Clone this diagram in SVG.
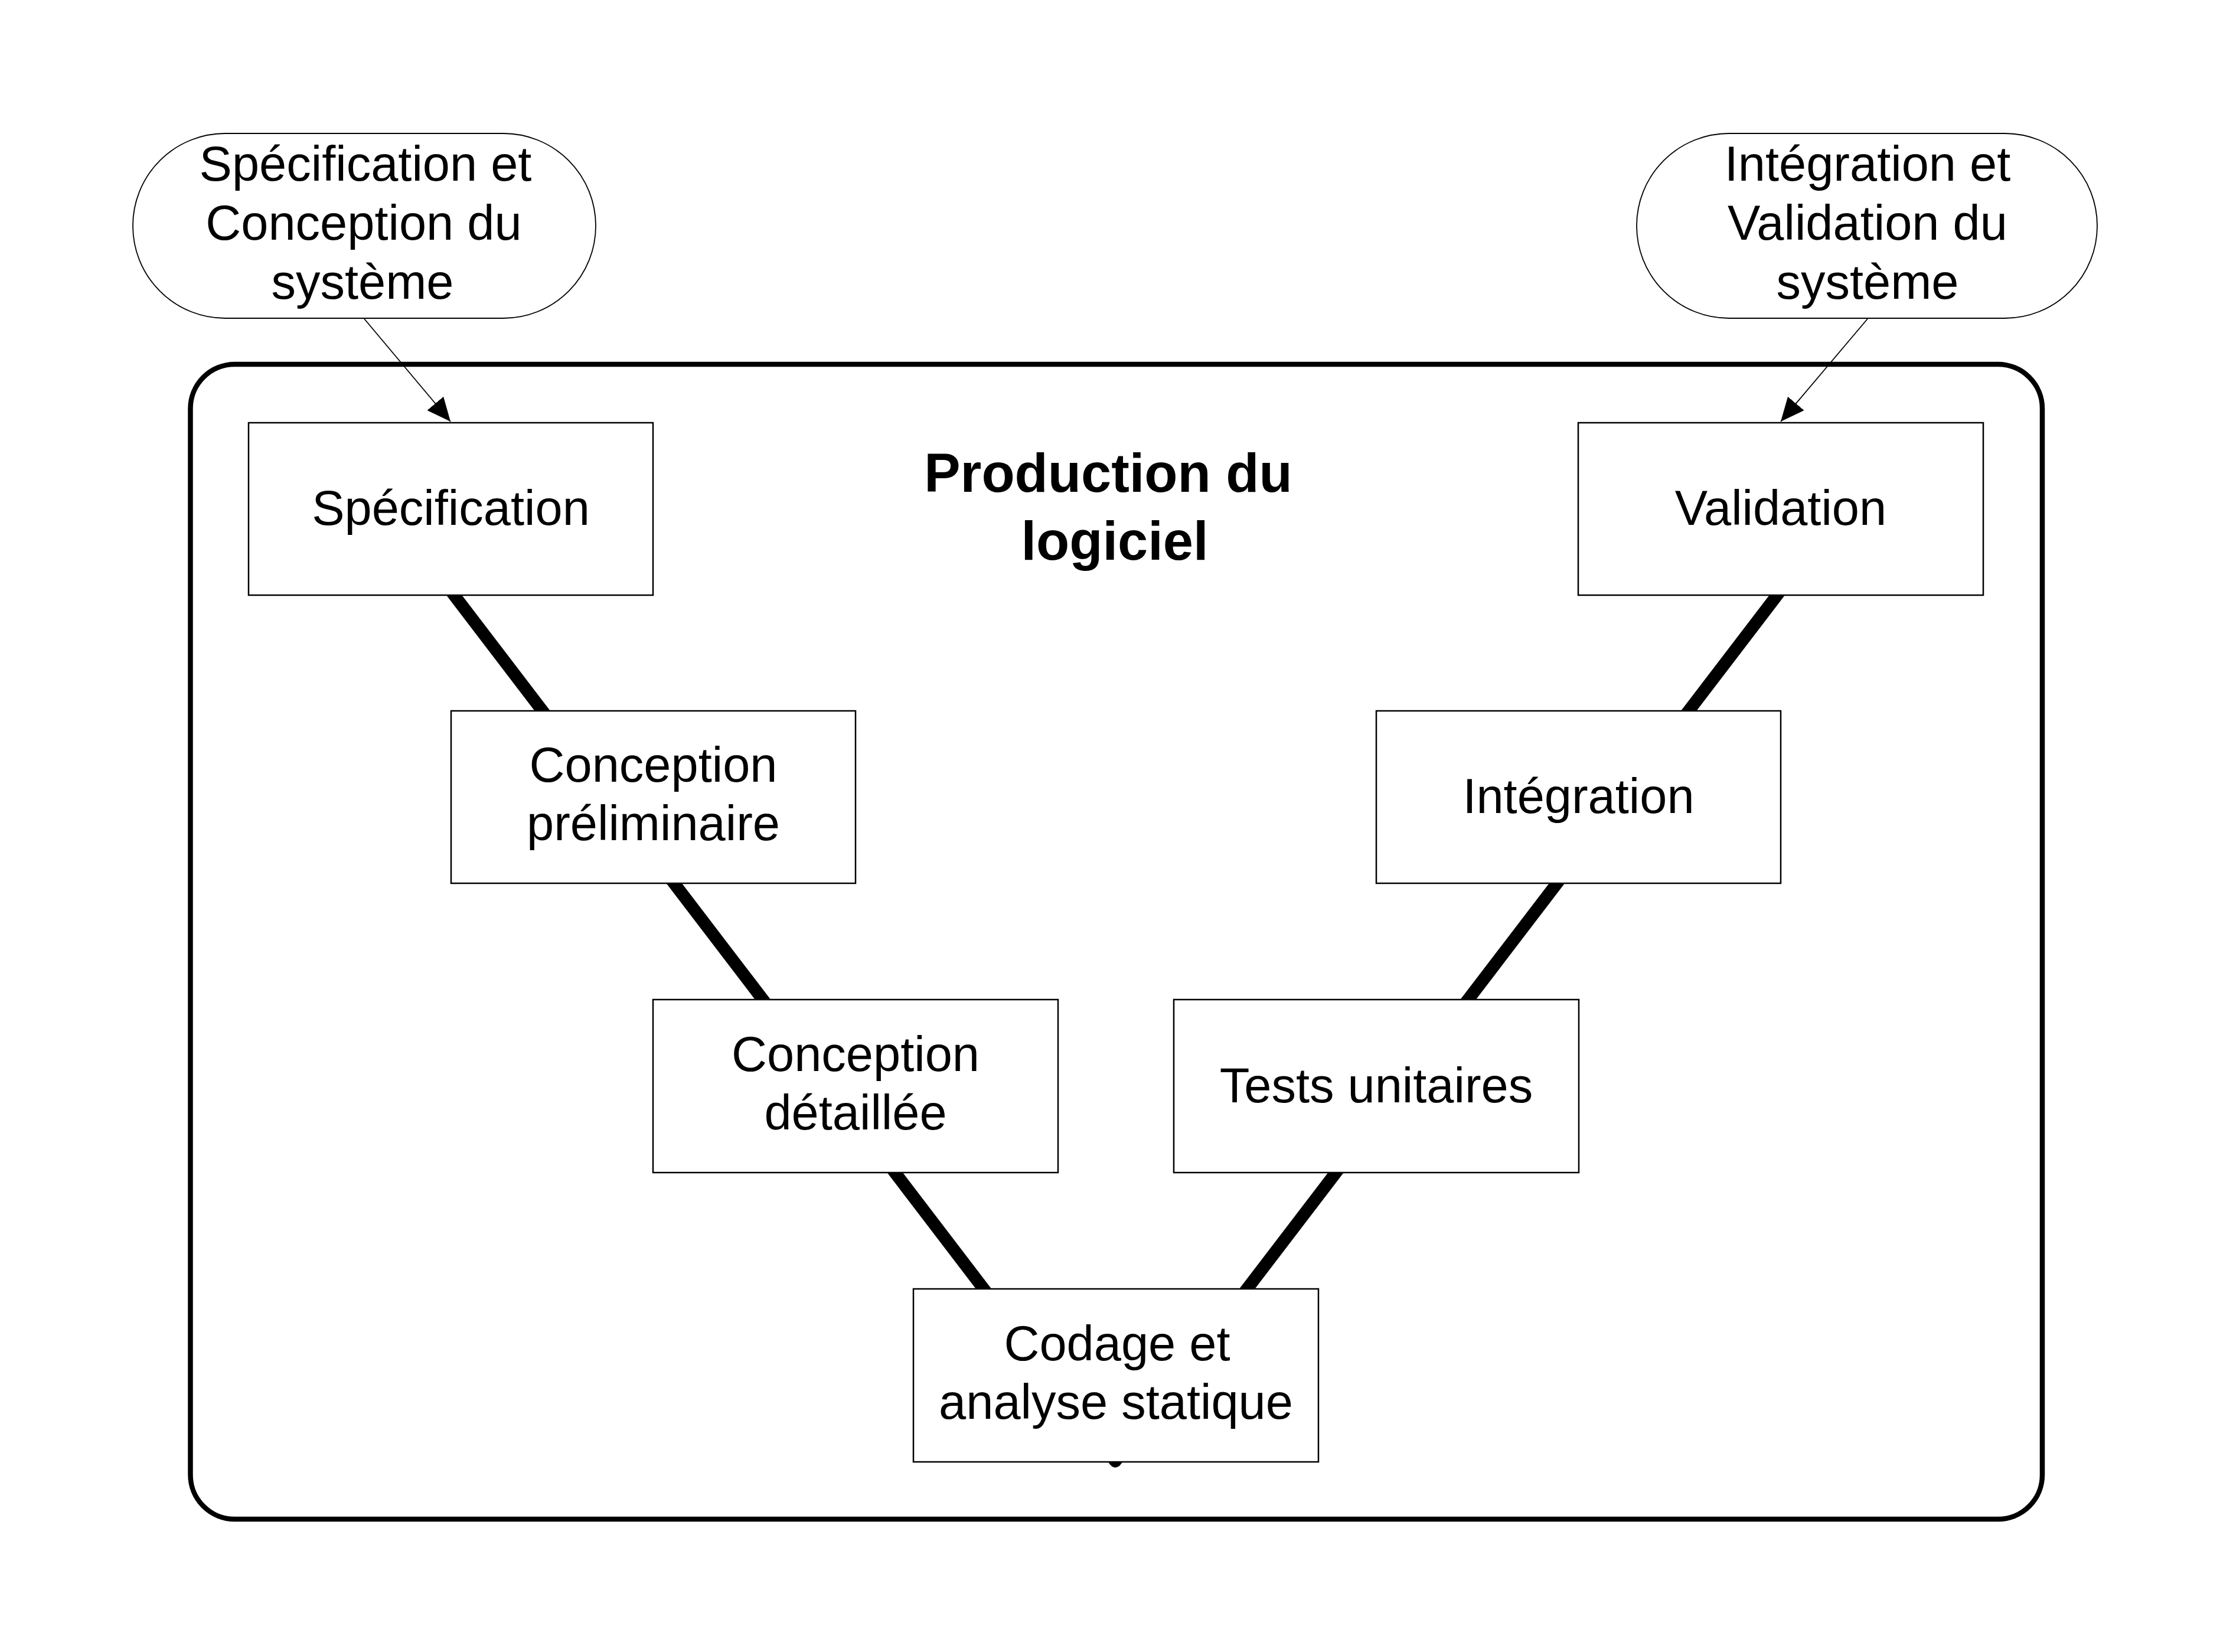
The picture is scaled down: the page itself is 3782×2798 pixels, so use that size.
<svg xmlns="http://www.w3.org/2000/svg" width="3782" height="2798" viewBox="0 0 3782 2798">
<style>
.box{fill:#fff;stroke:#000;stroke-width:2.5}
.pill{fill:#fff;stroke:#000;stroke-width:1.8}
.t{font-family:"Liberation Sans",Arial,sans-serif;font-size:83px;fill:#000;text-anchor:middle}
.title{font-family:"Liberation Sans",Arial,sans-serif;font-size:92px;font-weight:bold;fill:#000;text-anchor:middle}
.frame{fill:none;stroke:#000;stroke-width:8.5}
.v{fill:none;stroke:#000;stroke-width:21;stroke-linejoin:round}
.arr{fill:none;stroke:#000;stroke-width:1.8}
</style>
<defs>
<marker id="ah" viewBox="0 0 40 36" refX="40" refY="18" markerWidth="40" markerHeight="36" markerUnits="userSpaceOnUse" orient="auto">
<path d="M0,0 L40,18 L0,36 z" fill="#000"/>
</marker>
</defs>
<rect width="3782" height="2798" fill="#fff"/>
<g id="frame">
<rect class="frame" x="322.5" y="617" width="3136.5" height="1956" rx="75" ry="75"/>
<text class="title" x="1877" y="833">Production du</text>
<text class="title" x="1888" y="948">logiciel</text>
</g>
<g id="connectors">
<polyline class="v" points="763,1000 1889,2475 3016,1000"/>
<line class="arr" x1="617" y1="540" x2="763" y2="714" marker-end="url(#ah)"/>
<line class="arr" x1="3163" y1="540" x2="3016" y2="714" marker-end="url(#ah)"/>
</g>
<g id="specification">
<rect class="box" x="421" y="716" width="685" height="292"/>
<text class="t" x="763.5" y="889">Spécification</text>
</g>
<g id="conception-preliminaire">
<rect class="box" x="764" y="1204" width="685" height="292"/>
<text class="t" x="1106.5" y="1324">Conception</text>
<text class="t" x="1106.5" y="1423">préliminaire</text>
</g>
<g id="conception-detaillee">
<rect class="box" x="1106" y="1693" width="686" height="293"/>
<text class="t" x="1449" y="1813.5">Conception</text>
<text class="t" x="1449" y="1912.5">détaillée</text>
</g>
<g id="codage">
<rect class="box" x="1547" y="2183" width="686" height="293"/>
<text class="t" x="1892" y="2303.5">Codage et</text>
<text class="t" x="1890" y="2402.5">analyse statique</text>
</g>
<g id="tests-unitaires">
<rect class="box" x="1988" y="1693" width="686" height="293"/>
<text class="t" x="2331" y="1866.5">Tests unitaires</text>
</g>
<g id="integration">
<rect class="box" x="2331" y="1204" width="685" height="292"/>
<text class="t" x="2673.5" y="1377">Intégration</text>
</g>
<g id="validation">
<rect class="box" x="2673" y="716" width="686" height="292"/>
<text class="t" x="3016" y="889">Validation</text>
</g>
<g id="systeme-spec">
<rect class="pill" x="225" y="226" width="784" height="313" rx="156.5" ry="156.5"/>
<text class="t" x="619" y="306">Spécification et</text>
<text class="t" x="616" y="406">Conception du</text>
<text class="t" x="614" y="506">système</text>
</g>
<g id="systeme-valid">
<rect class="pill" x="2772" y="226" width="780" height="313" rx="156.5" ry="156.5"/>
<text class="t" x="3163" y="306">Intégration et</text>
<text class="t" x="3163" y="406">Validation du</text>
<text class="t" x="3163" y="506">système</text>
</g>
</svg>
